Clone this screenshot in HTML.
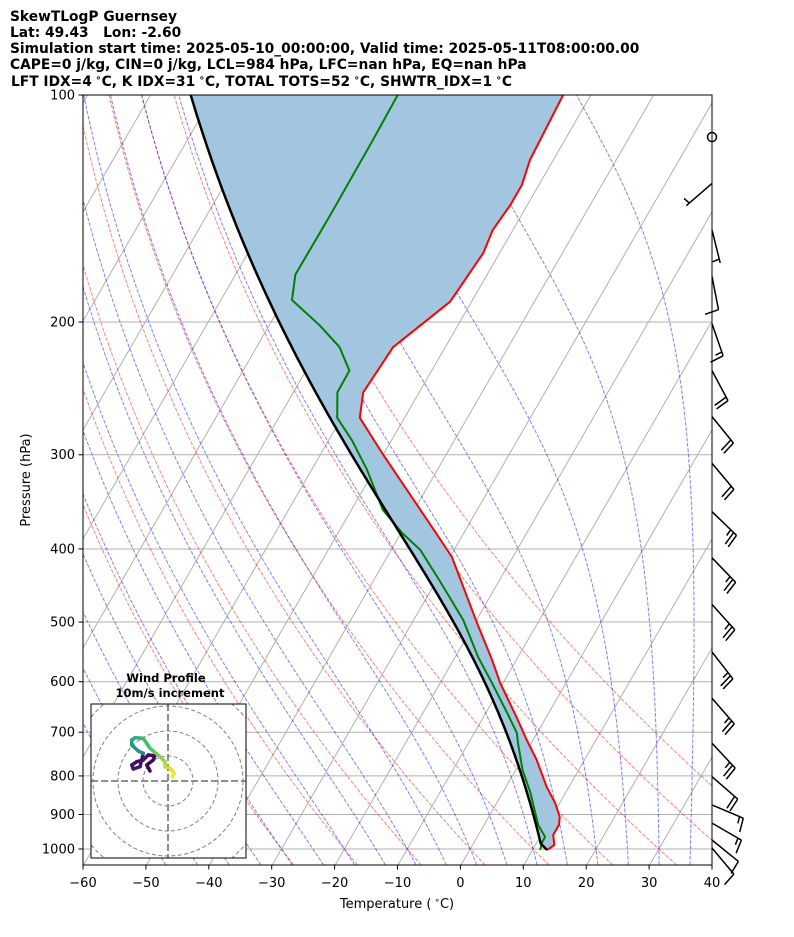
<!DOCTYPE html>
<html><head><meta charset="utf-8"><style>
html,body{margin:0;padding:0;background:#fff;overflow:hidden;}
svg{display:block;font-family:"DejaVu Sans","Liberation Sans",sans-serif;}
</style></head><body>
<svg id="chart" width="794" height="937" viewBox="0 0 794 937" xmlns="http://www.w3.org/2000/svg">
<defs><clipPath id="plotclip"><rect x="83" y="95" width="629" height="770"/></clipPath>
<clipPath id="hodoclip"><rect x="91" y="704" width="155" height="154"/></clipPath></defs>
<g font-weight="bold" font-size="13.8" fill="#000">
<text x="10" y="21">SkewTLogP Guernsey</text>
<text x="10" y="37" xml:space="preserve">Lat: 49.43   Lon: -2.60</text>
<text x="10" y="53">Simulation start time: 2025-05-10_00:00:00, Valid time: 2025-05-11T08:00:00.00</text>
<text x="10" y="69">CAPE=0 j/kg, CIN=0 j/kg, LCL=984 hPa, LFC=nan hPa, EQ=nan hPa</text>
<text x="11" y="86">LFT IDX=4<tspan font-size="10" dy="-5"> ∘</tspan><tspan dy="5">C, K IDX=31</tspan><tspan font-size="10" dy="-5"> ∘</tspan><tspan dy="5">C, TOTAL TOTS=52</tspan><tspan font-size="10" dy="-5"> ∘</tspan><tspan dy="5">C, SHWTR_IDX=1</tspan><tspan font-size="10" dy="-5"> ∘</tspan><tspan dy="5">C</tspan></text>
</g>
<g id="plot" clip-path="url(#plotclip)"></g>
<g id="axes"></g>
<g id="barbs"></g>
<g id="hodo"></g>
</svg>
<script>
// ---- data ----
const tempP = [100,122,131.6,140,151,162,188,216,248,268,300,383,410,501,561,602,670,717,762,828,869,907,929,958,988,1003];
const tempT = [-54.4,-53.7,-52.7,-52.7,-53.2,-52.6,-53.4,-58.3,-58.9,-57.1,-50.0,-34.1,-29.7,-19.7,-13.9,-10.5,-4.6,-1.0,2.4,6.5,9.3,11.3,11.9,11.9,13.0,12.3];
const dewP = [100,114.8,144,173,187,202,216,232,248,268,287,314,355,381,401,442,497,556,602,660,702,724,786,840,929,964,979,1003];
const dewT = [-80.7,-80.5,-80.4,-80.5,-78.7,-72,-66.8,-63.1,-63,-60.7,-56.3,-51.2,-45,-39.8,-35.4,-29.3,-22.1,-16.4,-11.8,-6.6,-3.2,-2.1,1.1,4.3,8.6,10.8,10.8,11.2];
const parcelStartP = 1003, parcelStartT = 12.3, lclP = 984;
const pressureTicks = [100,200,300,400,500,600,700,800,900,1000];
const tempTicks = [-60,-50,-40,-30,-20,-10,0,10,20,30,40];
const barbP = [113.7,131,151,174,201,232,267,308,357,411,474,548,631,724,802,874,924,973,997];
const barbDir = [0,229,166,169,161,152,141,140,134,136,138,142,139,137,131,113,120,129,140];
const barbSpd = [0,5,5,10,15,20,20,20,25,25,25,25,25,25,20,15,15,10,10];
const hodoU = [-7.2,-8.5,-5.9,-5.3,-7.9,-9.9,-12.5,-14.5,-13.9,-11.2,-9.9,-11.9,-14.5,-14.5,-13.2,-9.9,-7.2,-5.3,-3.2,-1.2,-1.2,0.8,2.5,1.7];
const hodoV = [4.0,6.4,8.4,10.1,10.4,8.4,7.7,6.4,4.8,5.7,11.1,12.0,14.4,16.4,17.3,17.1,13.1,11.5,9.7,7.7,5.7,5.1,3.1,1.7];

// ---- scales ----
const NS='http://www.w3.org/2000/svg';
const Y = p => 849 + 754*Math.log10(p/1000);
const X = (T,p) => 83 + (T+60)*6.29 + 0.577*(866 - Y(p));
function mk(parent,tag,attrs){const e=document.createElementNS(NS,tag);for(const k in attrs)e.setAttribute(k,attrs[k]);parent.appendChild(e);return e;}
const plot=document.getElementById('plot'), axes=document.getElementById('axes');
function pts(ps,ts){return ps.map((p,i)=>X(ts[i],p).toFixed(1)+','+Y(p).toFixed(1)).join(' ');}

function dTdp(p,T){const Rd=287.04,Cp=1005.7,Lv=2.501e6,eps=0.622;const es=6.112*Math.exp(17.67*(T-273.15)/(T-29.65));const rs=eps*es/(p-es);return ((Rd*T+Lv*rs)/Cp)/(1+Lv*Lv*rs*eps/(Cp*Rd*T*T))/p;}
function moist(p0,T0,p1){const out=[[p0,T0]];let p=p0,T=T0+273.15;const st=p1<p0?-2:2;while((st<0&&p>p1)||(st>0&&p<p1)){const k1=dTdp(p,T);const k2=dTdp(p+st/2,T+k1*st/2);T+=k2*st;p+=st;out.push([p,T-273.15]);}return out;}

for(let T=-200;T<=40;T+=10){
  const e=mk(plot,'line',{x1:X(T,1050),y1:Y(1050),x2:X(T,100),y2:Y(100),stroke:'#b0b0b0','stroke-width':1});
  
}
pressureTicks.forEach(p=>{const e=mk(plot,'line',{x1:83,x2:712,y1:Y(p),y2:Y(p),stroke:'#b0b0b0','stroke-width':1});
  });
for(let t0=-30;t0<=50;t0+=10){const th=t0+273.15;const ps=[],ts=[];for(let p=1050;p>=100;p-=10){ps.push(p);ts.push(th*Math.pow(p/1000,0.286)-273.15);}
  const e=mk(plot,'polyline',{points:pts(ps,ts),fill:'none',stroke:'rgba(255,0,0,0.5)','stroke-width':1,'stroke-dasharray':'3.7,1.6'});
  }
for(let t0=-50;t0<=45;t0+=5){const up=moist(1000,t0,100),dn=moist(1000,t0,1050);const all=dn.reverse().concat(up.slice(1));
  const e=mk(plot,'polyline',{points:all.map(a=>X(a[1],a[0]).toFixed(1)+','+Y(a[0]).toFixed(1)).join(' '),fill:'none',stroke:'rgba(0,0,255,0.5)','stroke-width':1,'stroke-dasharray':'3.7,1.6'});
  }
const parcel=[];{const th=(parcelStartT+273.15)*Math.pow(1000/parcelStartP,0.286);for(let p=parcelStartP;p>lclP;p-=2)parcel.push([p,th*Math.pow(p/1000,0.286)-273.15]);
 const Tl=th*Math.pow(lclP/1000,0.286)-273.15;moist(lclP,Tl,100).forEach(a=>parcel.push(a));}
const fillPts=pts(tempP,tempT)+' '+parcel.map(a=>X(a[1],a[0]).toFixed(1)+','+Y(a[0]).toFixed(1)).join(' ');
let e=mk(plot,'polygon',{points:fillPts,fill:'#a2c6df'});

e=mk(plot,'polyline',{points:pts(tempP,tempT),fill:'none',stroke:'#ff0000','stroke-width':2,'stroke-linejoin':'round'});

e=mk(plot,'polyline',{points:pts(dewP,dewT),fill:'none',stroke:'#008000','stroke-width':2,'stroke-linejoin':'round'});

e=mk(plot,'polyline',{points:parcel.map(a=>X(a[1],a[0]).toFixed(1)+','+Y(a[0]).toFixed(1)).join(' '),fill:'none',stroke:'#000','stroke-width':2.5});


e=mk(axes,'rect',{x:83,y:95,width:629,height:770,fill:'none',stroke:'#000','stroke-width':1});

tempTicks.forEach(t=>{const x=83+(t+60)*6.29;mk(axes,'line',{x1:x,x2:x,y1:865,y2:869.5,stroke:'#000'});
  const tx=mk(axes,'text',{x:x,y:887,'text-anchor':'middle','font-size':13});tx.textContent=(t<0?'\u2212'+(-t):''+t);
  });
pressureTicks.forEach(p=>{const y=Y(p);mk(axes,'line',{x1:78.5,x2:83,y1:y,y2:y,stroke:'#000'});
  const tx=mk(axes,'text',{x:75,y:y+4.5,'text-anchor':'end','font-size':13});tx.textContent=p;
  });
let t=mk(axes,'text',{x:397,y:908,'text-anchor':'middle','font-size':13});
t.innerHTML='Temperature (<tspan font-size="9" dy="-5"> ∘</tspan><tspan dy="5">C)</tspan>';

t=mk(axes,'text',{x:30,y:480,'text-anchor':'middle','font-size':13,transform:'rotate(-90 30 480)'});t.textContent='Pressure (hPa)';


const bg=document.getElementById('barbs');
barbP.forEach((p,i)=>{const by=Y(p),bx=712;const s=barbSpd[i];
  if(s===0){const c=mk(bg,'circle',{cx:bx,cy:by,r:4.5,fill:'none',stroke:'#000','stroke-width':1.5});
    return;}
  const a=barbDir[i]*Math.PI/180;const dx=Math.sin(a),dy=-Math.cos(a);const L=34;
  const tx=bx+dx*L,ty=by+dy*L;const px=-dy,py=dx;
  let d='M'+bx+','+by.toFixed(1)+'L'+tx.toFixed(1)+','+ty.toFixed(1);
  let full=Math.floor(s/10),half=(s%10)>=5?1:0;let k=0;
  if(full===0&&half)k=1;
  for(let j=0;j<full;j++,k++){const sx=tx-dx*4*k,sy=ty-dy*4*k;d+='M'+sx.toFixed(1)+','+sy.toFixed(1)+'l'+(px*14+dx*2).toFixed(1)+','+(py*14+dy*2).toFixed(1);}
  if(half){const sx=tx-dx*4*k,sy=ty-dy*4*k;d+='M'+sx.toFixed(1)+','+sy.toFixed(1)+'l'+(px*7+dx).toFixed(1)+','+(py*7+dy).toFixed(1);}
  const b=mk(bg,'path',{d:d,fill:'none',stroke:'#000','stroke-width':1.5});
  });

const hg=document.getElementById('hodo');const hcx=168,hcy=781,hs=2.5;
e=mk(hg,'rect',{x:91,y:704,width:155,height:154,fill:'#fff',stroke:'none'});

const hin=mk(hg,'g',{'clip-path':'url(#hodoclip)'});
[10,20,30,40].forEach(r=>{const c=mk(hin,'circle',{cx:hcx,cy:hcy,r:r*hs,fill:'none',stroke:'#808080','stroke-width':1,'stroke-dasharray':'4,2.5'});
  });
mk(hin,'line',{x1:91,x2:246,y1:hcy,y2:hcy,stroke:'#808080','stroke-width':1.8,'stroke-dasharray':'7,3'});
mk(hin,'line',{x1:hcx,x2:hcx,y1:704,y2:858,stroke:'#808080','stroke-width':1.8,'stroke-dasharray':'7,3'});
const vir=['#440154','#46327e','#365c8d','#277f8e','#1fa187','#4ac16d','#a0da39','#fde725'];
function vc(f){const i=Math.min(vir.length-2,Math.floor(f*(vir.length-1)));const r=f*(vir.length-1)-i;
  const h=s=>[1,3,5].map(j=>parseInt(s.substr(j,2),16));const A=h(vir[i]),B=h(vir[i+1]);return 'rgb('+A.map((v,j)=>Math.round(v+(B[j]-v)*r)).join(',')+')';}
for(let i=0;i<hodoU.length-1;i++){const f=i/(hodoU.length-2);const s=mk(hin,'line',{x1:hcx+hodoU[i]*hs,y1:hcy-hodoV[i]*hs,x2:hcx+hodoU[i+1]*hs,y2:hcy-hodoV[i+1]*hs,stroke:vc(i<10?f*0.15:f),'stroke-width':3.5,'stroke-linecap':'round'});
  }
e=mk(hg,'rect',{x:91,y:704,width:155,height:154,fill:'none',stroke:'#000','stroke-width':1});

t=mk(hg,'text',{x:166,y:682,'text-anchor':'middle','font-size':11.5,'font-weight':'bold'});t.textContent='Wind Profile';

t=mk(hg,'text',{x:170,y:697,'text-anchor':'middle','font-size':11.5,'font-weight':'bold'});t.textContent='10m/s increment';

</script>
</body></html>
